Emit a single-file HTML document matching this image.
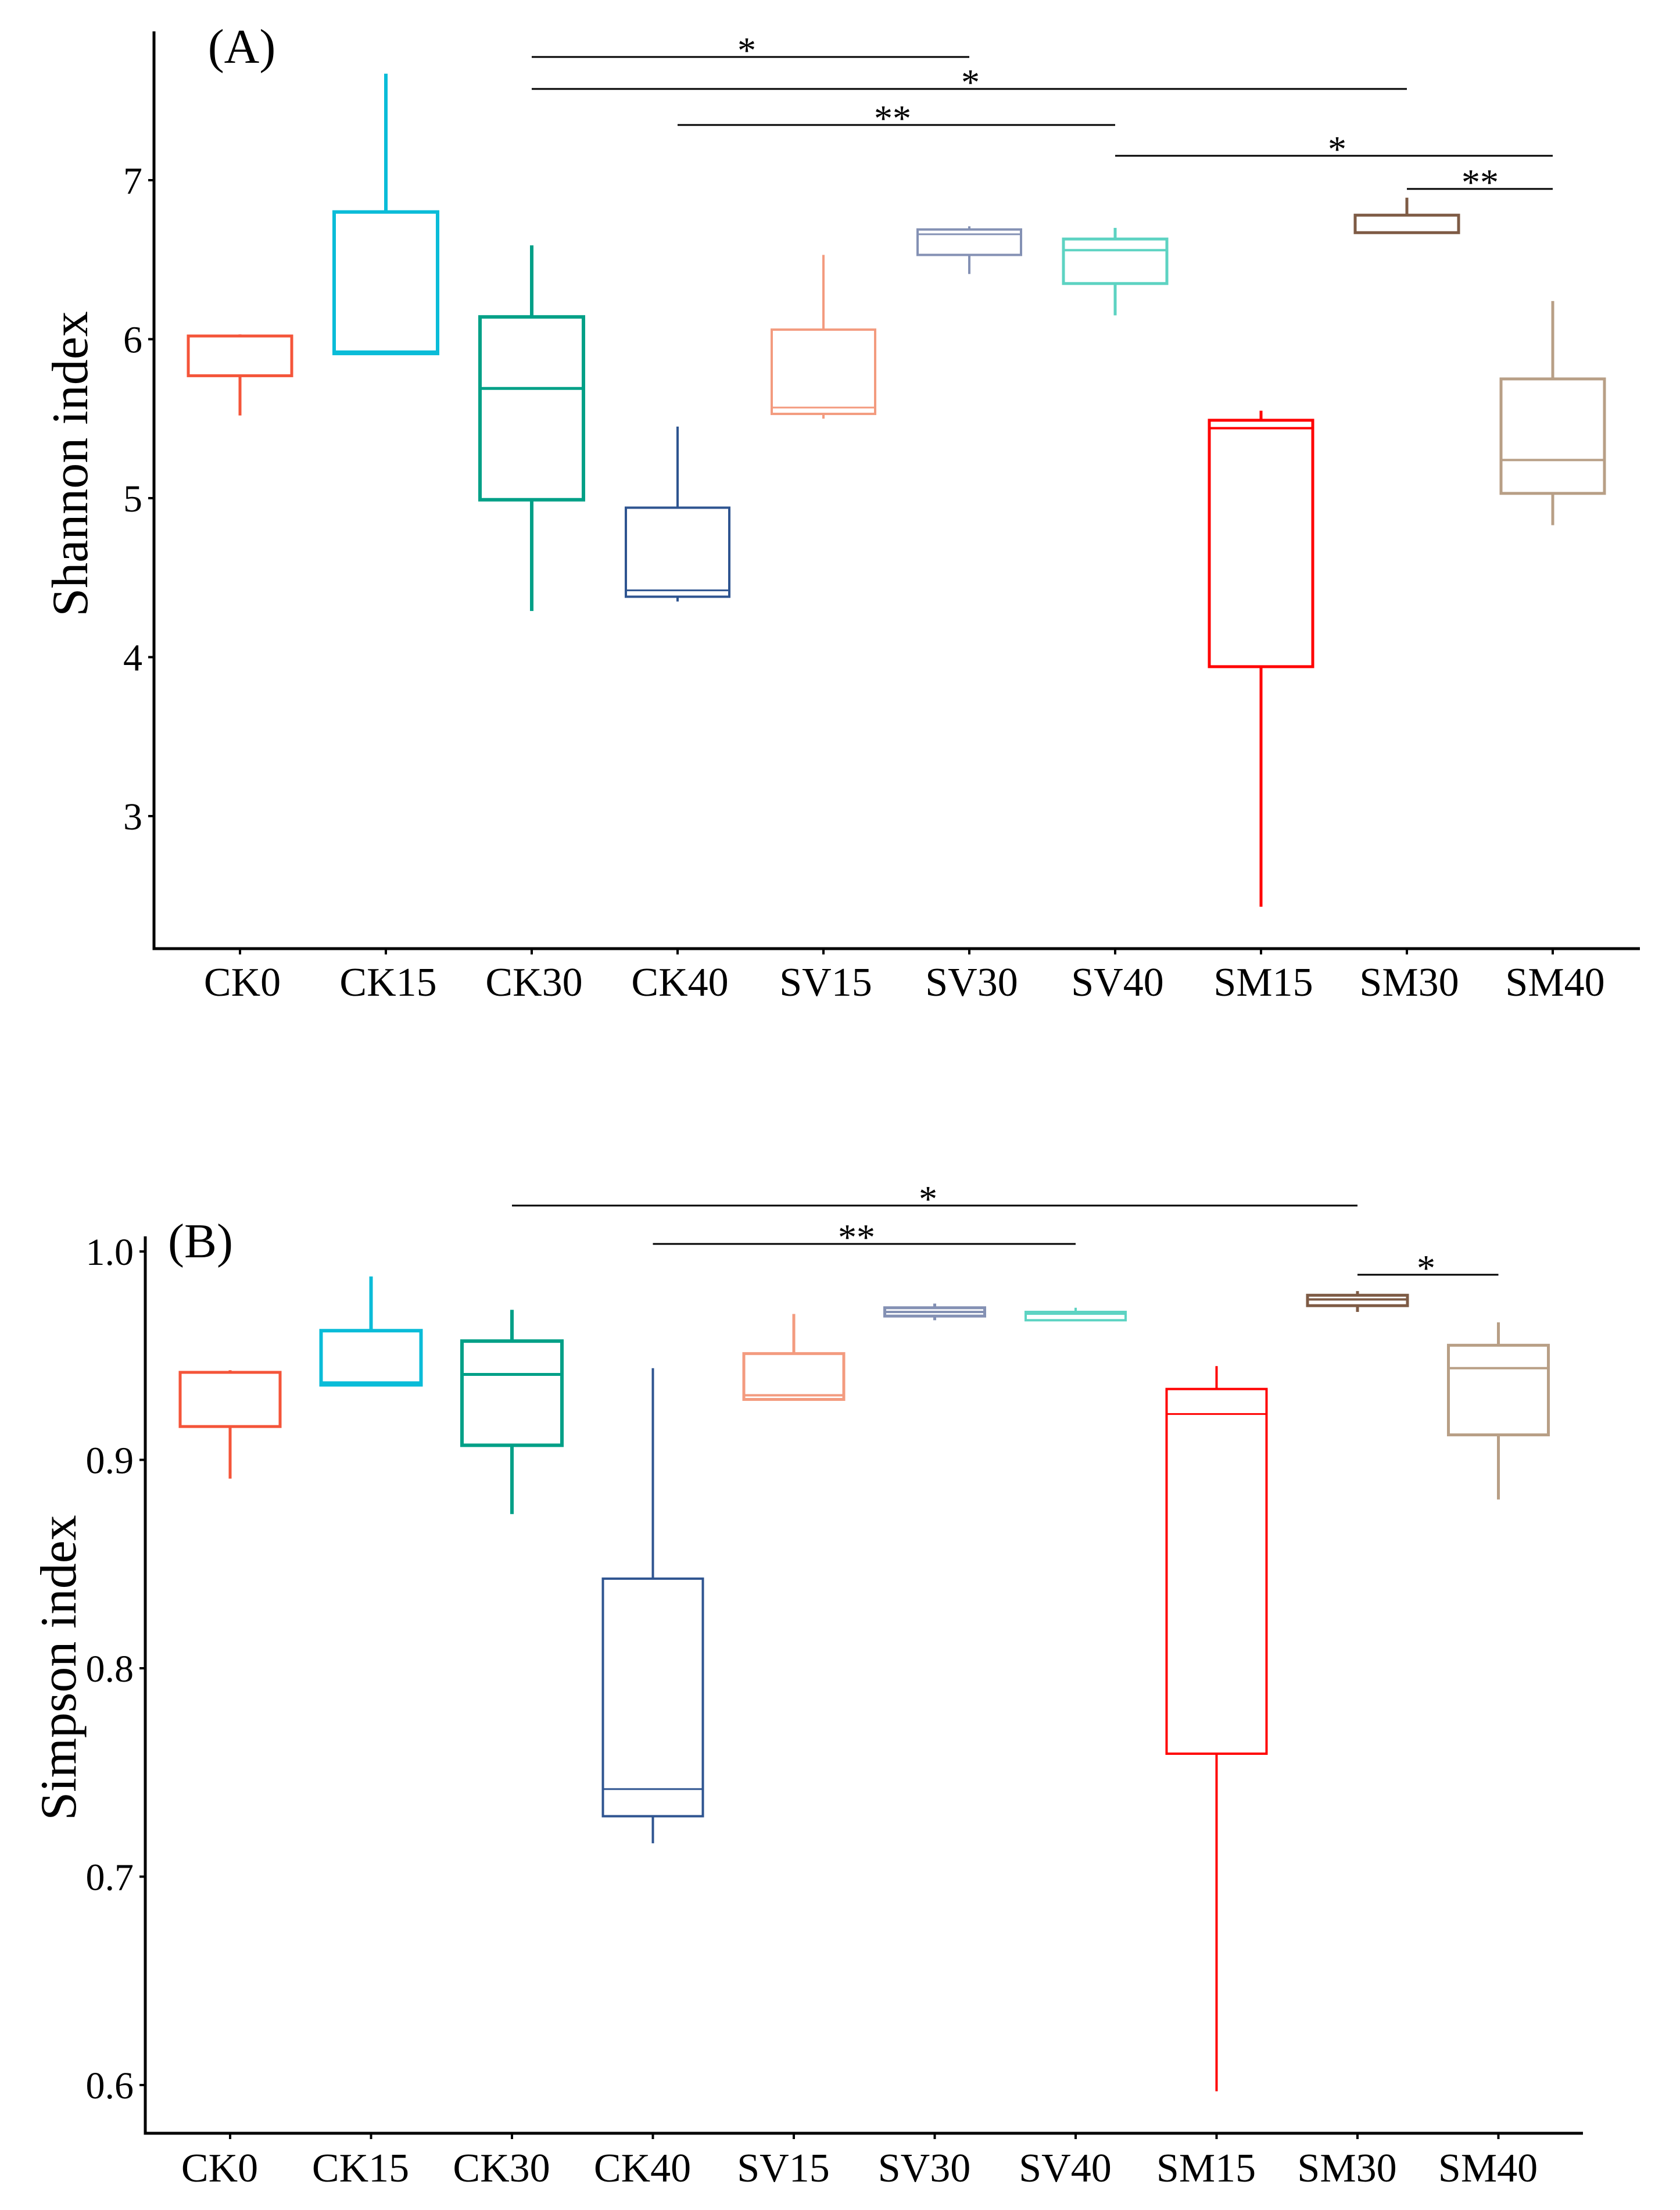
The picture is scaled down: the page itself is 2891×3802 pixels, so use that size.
<!DOCTYPE html>
<html><head><meta charset="utf-8">
<style>
html,body{margin:0;padding:0;background:#fff;}
svg{display:block;}
text{font-family:"Liberation Serif","DejaVu Serif",serif;fill:#000;}
</style></head>
<body>
<svg id="fig" width="2891" height="3802" viewBox="0 0 2891 3802" xmlns="http://www.w3.org/2000/svg">
<rect width="2891" height="3802" fill="#fff"/>
<g id="panelA"></g>
<g id="panelB"></g>
</svg>
<script>
const categories = ["CK0","CK15","CK30","CK40","SV15","SV30","SV40","SM15","SM30","SM40"];
const colors = ["#F4553A","#0ABCD8","#00A087","#2E5490","#F39B7F","#8491B4","#5DD3C2","#FF0000","#7E5B45","#B89F86"];
// Shannon: [lowerWhisker, q1, median, q3, upperWhisker]
const shannonLow  = [5.52,5.90,4.29,4.35,5.50,6.41,6.15,2.43,6.67,4.83];
const shannonQ1   = [5.77,5.91,4.99,4.38,5.53,6.53,6.35,3.94,6.67,5.03];
const shannonMed  = [6.02,5.92,5.69,4.42,5.57,6.66,6.56,5.44,6.67,5.24];
const shannonQ3   = [6.02,6.80,6.14,4.94,6.06,6.69,6.63,5.49,6.78,5.75];
const shannonHigh = [6.03,7.67,6.59,5.45,6.53,6.71,6.70,5.55,6.89,6.24];
const shannonTicks = [3,4,5,6,7];
// Simpson
const simpsonLow  = [0.891,0.936,0.874,0.716,0.929,0.967,0.967,0.597,0.971,0.881];
const simpsonQ1   = [0.916,0.936,0.907,0.729,0.929,0.969,0.967,0.759,0.974,0.912];
const simpsonMed  = [0.942,0.937,0.941,0.742,0.931,0.971,0.970,0.922,0.977,0.944];
const simpsonQ3   = [0.942,0.962,0.957,0.843,0.951,0.973,0.971,0.934,0.979,0.955];
const simpsonHigh = [0.943,0.988,0.972,0.944,0.970,0.975,0.973,0.945,0.981,0.966];
const simpsonTicks = ["0.6","0.7","0.8","0.9","1.0"];
// significance brackets
const shannonSigFrom = [2,2,3,6,8];
const shannonSigTo   = [5,8,6,9,9];
const shannonSigLab  = ["*","*","**","*","**"];
const simpsonSigFrom = [2,3,8];
const simpsonSigTo   = [8,6,9];
const simpsonSigLab  = ["*","**","*"];

const NS="http://www.w3.org/2000/svg";
function mk(parent,tag,attrs,txt){const e=document.createElementNS(NS,tag);for(const k in attrs)e.setAttribute(k,attrs[k]);if(txt!==undefined)e.textContent=txt;parent.appendChild(e);return e;}

function drawPanel(g,cfg){
  const xS=i=>cfg.x0+cfg.dx*i;
  const yS=v=>cfg.yRef-(v-cfg.vRef)*cfg.ppu;
  let e=mk(g,"line",{x1:cfg.axX,y1:cfg.axTop,x2:cfg.axX,y2:cfg.axY+2.5,stroke:"#000","stroke-width":5});
  
  
  e=mk(g,"line",{x1:cfg.axX-2.5,y1:cfg.axY,x2:cfg.axRight,y2:cfg.axY,stroke:"#000","stroke-width":5});
  
  
  cfg.ticks.forEach(t=>{
    const y=yS(parseFloat(t));
    let l=mk(g,"line",{x1:cfg.axX-10,y1:y,x2:cfg.axX,y2:y,stroke:"#000","stroke-width":4});
    
    
    let tx=mk(g,"text",{x:cfg.axX-20,y:y+23,"font-size":66,"text-anchor":"end"},t);
    
    
  });
  categories.forEach((c,i)=>{
    const x=xS(i);
    let l=mk(g,"line",{x1:x,y1:cfg.axY,x2:x,y2:cfg.axY+10,stroke:"#000","stroke-width":4});
    
    
    let tx=mk(g,"text",{x:x+cfg.labDx,y:cfg.labY,"font-size":70,"text-anchor":"middle"},c);
    
    
    const bg=mk(g,"g",{});
    
    
    const col=colors[i], sw=cfg.sw[i];
    const q1=yS(cfg.q1[i]),q3=yS(cfg.q3[i]),md=yS(cfg.med[i]),lo=yS(cfg.low[i]),hi=yS(cfg.high[i]);
    mk(bg,"line",{x1:x,y1:hi,x2:x,y2:q3,stroke:col,"stroke-width":sw});
    mk(bg,"line",{x1:x,y1:q1,x2:x,y2:lo,stroke:col,"stroke-width":sw});
    mk(bg,"rect",{x:x-cfg.hw,y:q3,width:2*cfg.hw,height:Math.max(q1-q3,1),fill:"none",stroke:col,"stroke-width":sw});
    mk(bg,"line",{x1:x-cfg.hw,y1:md,x2:x+cfg.hw,y2:md,stroke:col,"stroke-width":sw-1});
  });
  cfg.sigFrom.forEach((f,k)=>{
    const y=cfg.sigY[k];
    let l=mk(g,"line",{x1:xS(f),y1:y,x2:xS(cfg.sigTo[k]),y2:y,stroke:"#000","stroke-width":3});
    
    
    let tx=mk(g,"text",{x:cfg.sigX[k],y:y+10,"font-size":64,"text-anchor":"middle"},cfg.sigLab[k]);
    
    
  });
  let t=mk(g,"text",{x:cfg.tagX,y:cfg.tagY,"font-size":84,"text-anchor":"middle"},cfg.tag);
  
  
  t=mk(g,"text",{x:0,y:0,"font-size":88,"text-anchor":"middle",transform:`translate(${cfg.titX},${cfg.titY}) rotate(-90)`},cfg.title);
  
  
}

drawPanel(document.getElementById("panelA"),{
  x0:413,dx:251,yRef:310,vRef:7,ppu:273.5,axX:265,axTop:54,axY:1632,axRight:2822,labY:1713,labDx:4,hw:89,
  ticks:shannonTicks.map(String),low:shannonLow,q1:shannonQ1,med:shannonMed,q3:shannonQ3,high:shannonHigh,
  sw:[5,6,6,4,4,4,5,5,5,5],
  sigFrom:shannonSigFrom,sigTo:shannonSigTo,sigLab:shannonSigLab,
  sigY:[98,153,215,268,325],sigX:[1285,1670,1536,2301,2547],
  tag:"(A)",tagX:416,tagY:108,title:"Shannon index",titX:150,titY:798
});
drawPanel(document.getElementById("panelB"),{
  x0:396,dx:242.5,yRef:2153,vRef:1.0,ppu:3585,axX:250,axTop:2127,axY:3670,axRight:2724,labY:3753,labDx:-18,hw:86,
  ticks:simpsonTicks,low:simpsonLow,q1:simpsonQ1,med:simpsonMed,q3:simpsonQ3,high:simpsonHigh,
  sw:[5,6,6,4,5,5,4,4,5,5],
  sigFrom:simpsonSigFrom,sigTo:simpsonSigTo,sigLab:simpsonSigLab,
  sigY:[2074,2140,2193],sigX:[1597,1474,2454],
  tag:"(B)",tagX:345,tagY:2163,title:"Simpson index",titX:130,titY:2869
});
</script>
</body></html>
